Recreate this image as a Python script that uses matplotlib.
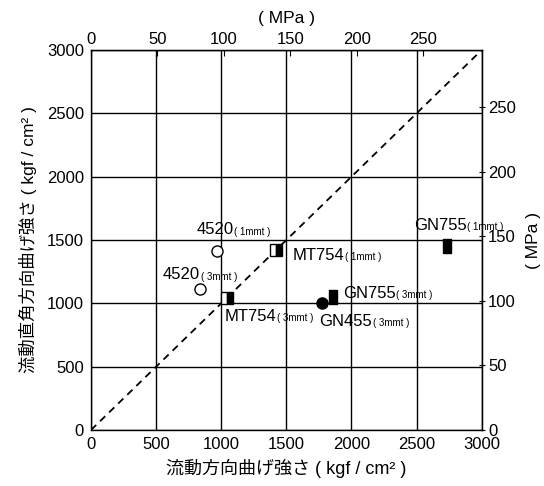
import numpy as np
import matplotlib
matplotlib.use('Agg')
import matplotlib.pyplot as plt

plt.rcParams['font.family'] = ['Liberation Sans', 'Noto Sans CJK JP']

# data (kgf/cm2)
grades = ['4520', '4520', 'MT754', 'MT754', 'GN455', 'GN755', 'GN755']
thickness = ['1mmt', '3mmt', '1mmt', '3mmt', '3mmt', '3mmt', '1mmt']
flow_strength = [970, 840, 1420, 1045, 1775, 1860, 2735]
cross_strength = [1415, 1115, 1425, 1040, 1000, 1050, 1450]

kgf_ticks = [0, 500, 1000, 1500, 2000, 2500, 3000]
mpa_ticks = [0, 50, 100, 150, 200, 250]

# label placement (offset points from the marker)
label_offsets = [(-15, 15), (-27, 10), (12, -4), (-2, -13), (-2, -13), (7, 2.5), (-24, 15)]

K = 0.0980665  # MPa per kgf/cm2


def to_mpa(v):
    return v * K


def to_kgf(v):
    return v / K


fig = plt.figure(figsize=(5.44, 4.86), dpi=100)
ax = fig.add_axes([0.1673, 0.1152, 0.7182, 0.7819])

ax.set_xlim(0, 3000)
ax.set_ylim(0, 3000)
ax.set_xticks(kgf_ticks)
ax.set_yticks(kgf_ticks)
ax.tick_params(length=0, labelsize=12, pad=5)
ax.grid(True, color='black', linewidth=1.0)
for s in ax.spines.values():
    s.set_linewidth(1.0)

ax.plot([0, 3000], [0, 3000], color='black', linestyle=(0, (4, 3)), linewidth=1.3, zorder=3)

rect = [(-0.3, -0.5), (0.3, -0.5), (0.3, 0.5), (-0.3, 0.5), (-0.3, -0.5)]
styles = {
    '4520': dict(marker='o', markersize=8, markerfacecolor='white', markeredgecolor='black', markeredgewidth=1.0),
    'MT754': dict(marker='s', markersize=9, fillstyle='left', markerfacecolor='white',
                  markerfacecoloralt='black', markeredgecolor='black', markeredgewidth=1.0),
    'GN455': dict(marker='o', markersize=8, markerfacecolor='black', markeredgecolor='black'),
    'GN755': dict(marker=rect, markersize=9.5, markerfacecolor='black', markeredgecolor='black'),
}

for g, t, x, y, off in zip(grades, thickness, flow_strength, cross_strength, label_offsets):
    ax.plot([x], [y], linestyle='none', zorder=4, **styles[g])
    main = ax.annotate(g, xy=(x, y), xytext=off, textcoords='offset points',
                       ha='left', va='center', fontsize=12, zorder=5)
    ax.annotate('( %s )' % t, xy=(1, 0), xycoords=main, xytext=(0.5, 0.5),
                textcoords='offset points', ha='left', va='bottom', fontsize=7, zorder=5)

ax.set_xlabel('流動方向曲げ強さ ( kgf / cm² )', fontsize=13, labelpad=5)
ax.set_ylabel('流動直角方向曲げ強さ ( kgf / cm² )', fontsize=12.5, labelpad=7)

top = ax.secondary_xaxis('top', functions=(to_mpa, to_kgf))
top.set_xticks(mpa_ticks)
top.tick_params(direction='in', length=4, labelsize=12, pad=2)
top.set_xlabel('( MPa )', fontsize=12.5, labelpad=7)

right = ax.secondary_yaxis('right', functions=(to_mpa, to_kgf))
right.set_yticks(mpa_ticks)
right.tick_params(direction='inout', length=5, labelsize=12, pad=2)
right.set_ylabel('( MPa )', fontsize=12.5, labelpad=7)

fig.savefig('out.png', dpi=100)
